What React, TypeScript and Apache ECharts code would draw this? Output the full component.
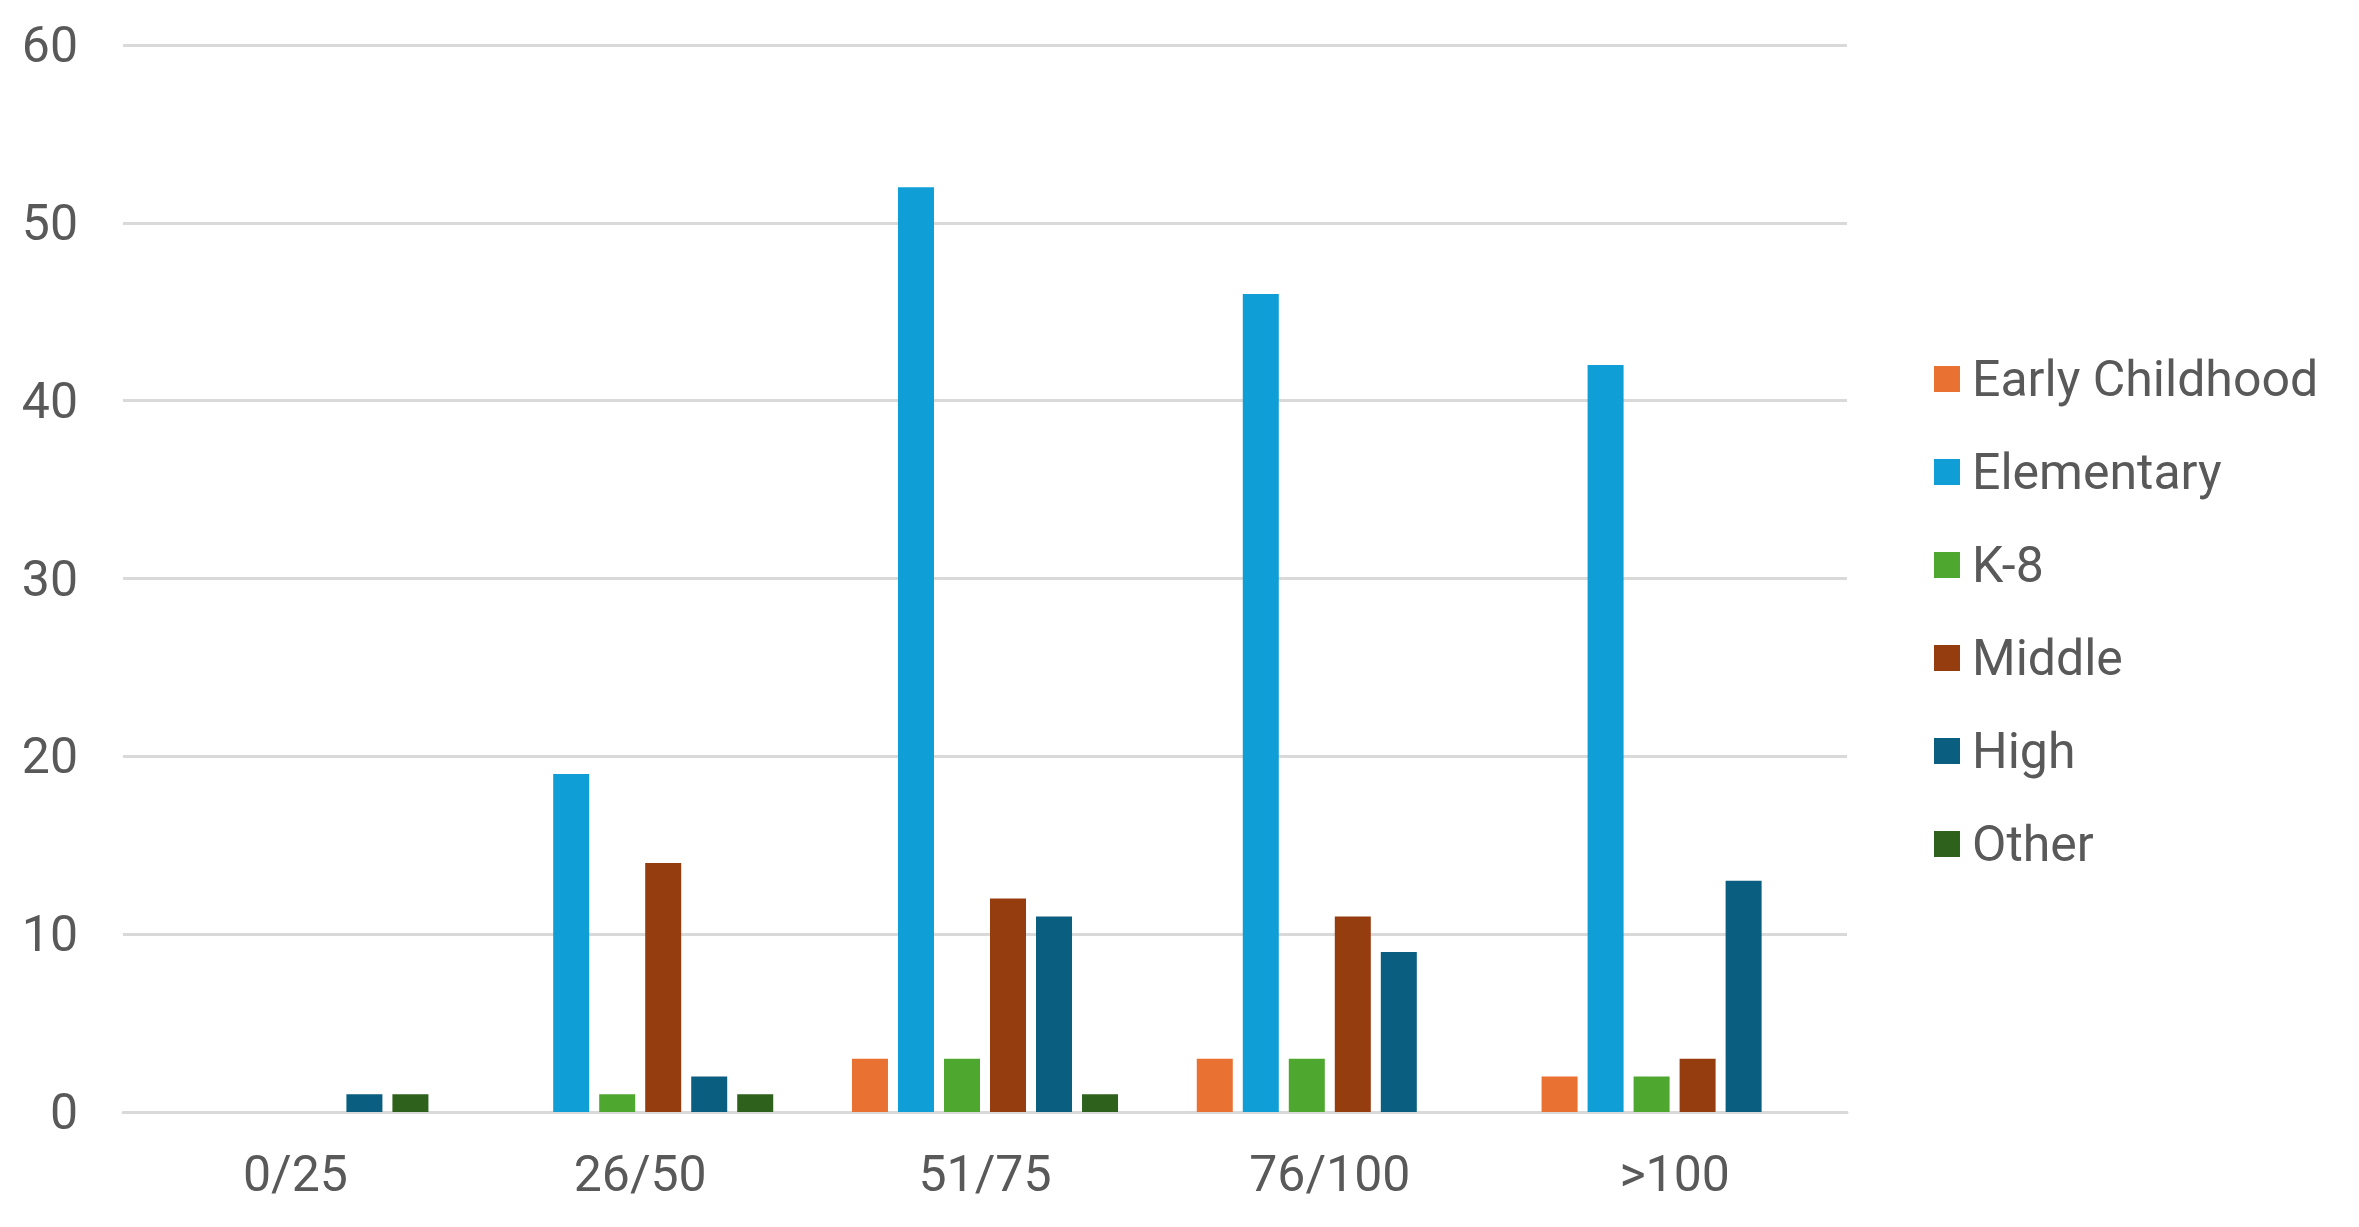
import React, { useEffect, useRef } from "react";
import * as echarts from "echarts";

const categories = ["0/25", "26/50", "51/75", "76/100", ">100"];
const seriesNames = ["Early Childhood", "Elementary", "K-8", "Middle", "High", "Other"];
const earlyChildhood = [0, 0, 3, 3, 2];
const elementary = [0, 19, 52, 46, 42];
const k8 = [0, 1, 3, 3, 2];
const middle = [0, 14, 12, 11, 3];
const high = [1, 2, 11, 9, 13];
const other = [1, 1, 1, 0, 0];
const colors = ["#E97132", "#0F9ED5", "#4EA72E", "#963D0F", "#0A5E80", "#2D611C"];

const App: React.FC = () => {
  const chartRef = useRef<HTMLDivElement>(null);

  useEffect(() => {
    document.body.style.margin = "0";
    const chart = echarts.init(chartRef.current!, null, { renderer: "svg" });

    const values = [earlyChildhood, elementary, k8, middle, high, other];
    const fontFamily = "Roboto";

    const options = {
      animation: false,
      backgroundColor: "#ffffff",
      textStyle: { fontFamily },
      grid: {
        left: 123,
        right: 2359 - 1847,
        top: 45,
        bottom: 1227 - 1112,
        containLabel: false,
      },
      legend: {
        orient: "vertical",
        left: 1929,
        top: 349,
        itemWidth: 26,
        itemHeight: 26,
        itemGap: 43,
        icon: "rect",
        textStyle: {
          fontFamily,
          fontSize: 50,
          color: "#595959",
          padding: [0, 0, 0, 7],
        },
        data: seriesNames,
      },
      xAxis: {
        type: "category",
        data: categories,
        axisLine: { show: true, lineStyle: { color: "#D9D9D9", width: 3 } },
        axisTick: { show: false },
        axisLabel: {
          fontFamily,
          fontSize: 50,
          color: "#595959",
          margin: 37,
        },
      },
      yAxis: {
        type: "value",
        min: 0,
        max: 60,
        interval: 10,
        axisLine: { show: false },
        axisTick: { show: false },
        splitLine: { lineStyle: { color: "#D9D9D9", width: 3 } },
        axisLabel: {
          fontFamily,
          fontSize: 50,
          color: "#595959",
          margin: 45,
        },
      },
      series: seriesNames.map((name, i) => ({
        name,
        type: "bar",
        data: values[i].map((v) => (v === 0 ? null : v)),
        barWidth: 36,
        barGap: "27.8%",
        itemStyle: {
          color: colors[i],
        },
      })),
    };

    chart.setOption(options);

    return () => {
      chart.dispose();
    };
  }, []);

  return <div ref={chartRef} style={{ width: 2359, height: 1227 }}></div>;
};

export default App;
